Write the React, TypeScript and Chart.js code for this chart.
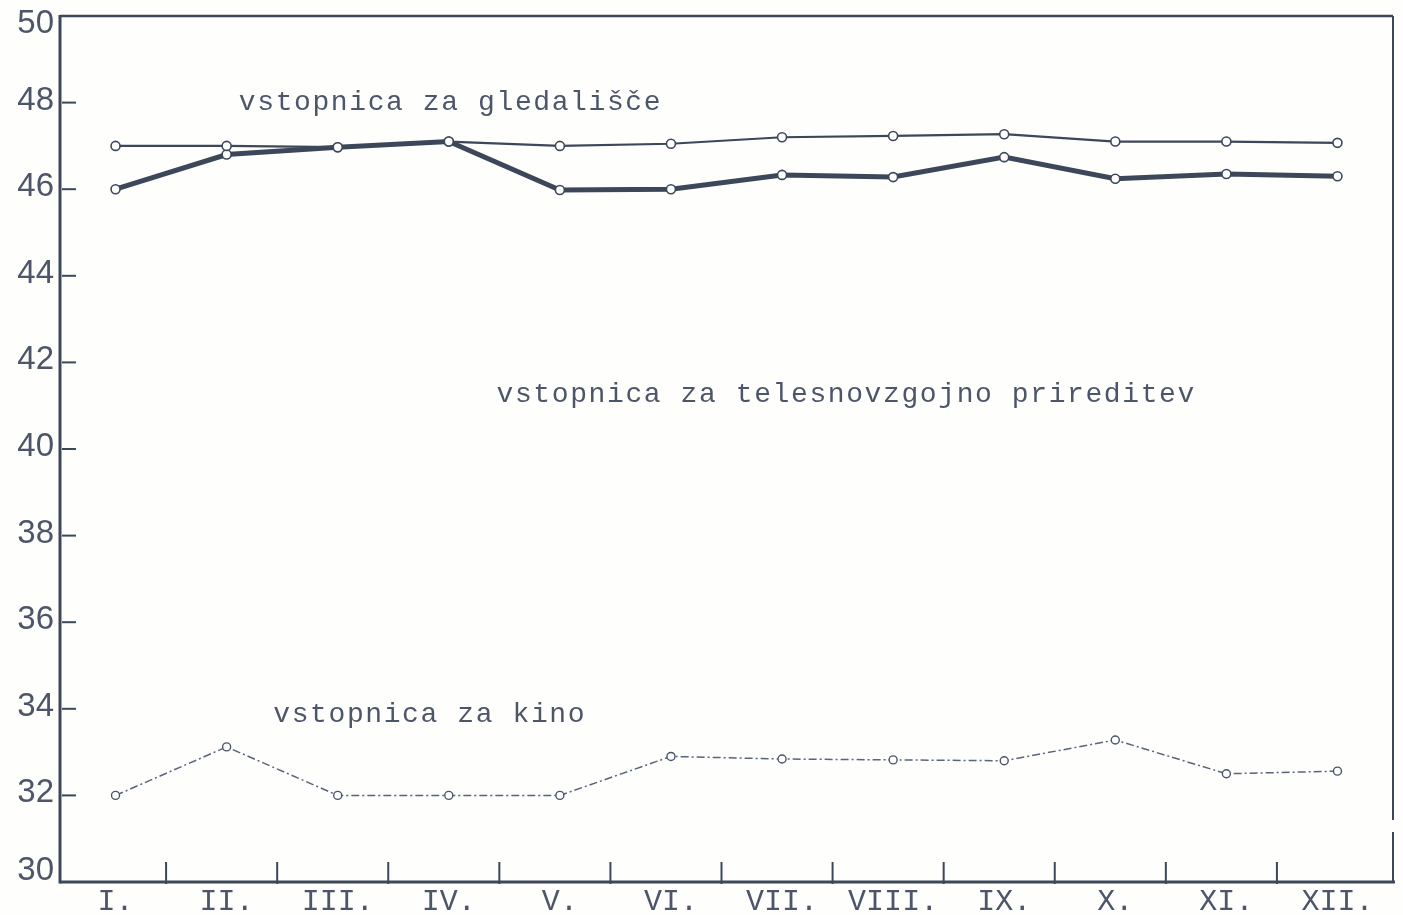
import React, { useEffect, useRef } from 'react';
import { Chart, registerables } from 'chart.js';

Chart.register(...registerables);

// ---- data ----
const months = ['I.', 'II.', 'III.', 'IV.', 'V.', 'VI.', 'VII.', 'VIII.', 'IX.', 'X.', 'XI.', 'XII.'];
const theatre = [47.0, 47.0, 46.97, 47.1, 47.0, 47.05, 47.2, 47.23, 47.27, 47.1, 47.1, 47.07];
const sports = [46.0, 46.8, 46.97, 47.1, 45.98, 46.0, 46.33, 46.28, 46.74, 46.24, 46.35, 46.3];
const cinema = [32.0, 33.12, 32.0, 32.0, 32.0, 32.9, 32.84, 32.82, 32.8, 33.28, 32.5, 32.56];
const yTicks = [30, 32, 34, 36, 38, 40, 42, 44, 46, 48, 50];

const labelTheatre = 'vstopnica za gledališče';
const labelSports = 'vstopnica za telesnovzgojno prireditev';
const labelCinema = 'vstopnica za kino';

// annotation anchors in data space: [category index (fractional), value]
const annTheatre = [1.11, 48.0];
const annSports = [3.43, 41.25];
const annCinema = [1.42, 33.86];

const INK = '#3c475a';
const TEXT = '#4d5669';
const MONO = '"Liberation Mono", "DejaVu Sans Mono", monospace';
const SANS = '"Liberation Sans", Arial, sans-serif';

const decor = {
  id: 'decor',
  beforeDraw(chart: any) {
    const { ctx, width, height } = chart;
    ctx.save();
    ctx.fillStyle = '#fefefd';
    ctx.fillRect(0, 0, width, height);
    ctx.restore();
  },
  afterDraw(chart: any) {
    const { ctx, chartArea: a, scales } = chart;
    const x = scales.x;
    const y = scales.y;
    const line = (x1: number, y1: number, x2: number, y2: number) => {
      ctx.beginPath();
      ctx.moveTo(x1, y1);
      ctx.lineTo(x2, y2);
      ctx.stroke();
    };
    ctx.save();
    ctx.strokeStyle = INK;
    ctx.lineCap = 'butt';
    // frame
    ctx.lineWidth = 3;
    line(a.left, a.top - 1, a.left, a.bottom + 1.5);
    line(a.left, a.bottom, a.right + 2, a.bottom);
    ctx.lineWidth = 2.5;
    line(a.left, a.top, a.right, a.top);
    ctx.lineWidth = 2;
    line(a.right, a.top, a.right, a.bottom - 62);
    line(a.right, a.bottom - 50, a.right, a.bottom);
    // y tick dashes
    ctx.lineWidth = 2;
    yTicks.forEach((v) => {
      if (v > 30 && v < 50) {
        const py = y.getPixelForValue(v);
        line(a.left + 2, py, a.left + 16, py);
      }
    });
    // y tick labels (placed via the y scale)
    ctx.fillStyle = TEXT;
    ctx.font = `33px ${SANS}`;
    ctx.textAlign = 'right';
    ctx.textBaseline = 'middle';
    yTicks.forEach((v) => {
      let dy = -2;
      if (v === y.max) dy = 8;
      if (v === y.min) dy = -11;
      ctx.fillText(String(v), a.left - 6, y.getPixelForValue(v) + dy);
    });
    // x separators
    ctx.lineWidth = 2;
    for (let i = 0; i < months.length - 1; i++) {
      const px = (x.getPixelForValue(i) + x.getPixelForValue(i + 1)) / 2 - 5;
      line(px, a.bottom - 20, px, a.bottom + 2);
    }
    // annotations
    ctx.fillStyle = TEXT;
    ctx.font = `28px ${MONO}`;
    (ctx as any).letterSpacing = '1.6px';
    ctx.textAlign = 'left';
    ctx.textBaseline = 'middle';
    const put = (txt: string, pos: number[]) => {
      ctx.fillText(txt, x.getPixelForValue(pos[0]), y.getPixelForValue(pos[1]));
    };
    put(labelTheatre, annTheatre);
    put(labelSports, annSports);
    put(labelCinema, annCinema);
    ctx.restore();
  },
};

export default function App() {
  const ref = useRef<HTMLCanvasElement | null>(null);

  useEffect(() => {
    if (!ref.current) return;
    const chart = new Chart(ref.current, {
      type: 'line',
      data: {
        labels: months,
        datasets: [
          {
            label: labelTheatre,
            data: theatre,
            borderColor: INK,
            borderWidth: 2.2,
            pointRadius: 4.5,
            pointBorderWidth: 1.6,
            pointBackgroundColor: '#ffffff',
            pointBorderColor: INK,
            tension: 0,
          },
          {
            label: labelSports,
            data: sports,
            borderColor: INK,
            borderWidth: 5,
            pointRadius: 4.5,
            pointBorderWidth: 1.6,
            pointBackgroundColor: '#ffffff',
            pointBorderColor: INK,
            tension: 0,
          },
          {
            label: labelCinema,
            data: cinema,
            borderColor: '#59637a',
            borderWidth: 1.5,
            borderDash: [8, 3, 2, 3],
            pointRadius: 4,
            pointBorderWidth: 1.4,
            pointBackgroundColor: '#ffffff',
            pointBorderColor: '#4a5468',
            tension: 0,
          },
        ],
      },
      options: {
        responsive: false,
        animation: false,
        layout: { padding: { top: 16, right: 10, left: 0, bottom: 0 } },
        plugins: {
          legend: { display: false },
          tooltip: { enabled: false },
        },
        scales: {
          x: {
            type: 'category',
            offset: true,
            grid: { display: false, drawTicks: false },
            border: { display: false },
            ticks: {
              color: TEXT,
              font: { family: MONO, size: 30 },
              padding: 2,
              maxRotation: 0,
              autoSkip: false,
            },
            afterFit: (s: any) => {
              s.height = 33;
            },
          },
          y: {
            min: 30,
            max: 50,
            grid: { display: false, drawTicks: false },
            border: { display: false },
            afterBuildTicks: (s: any) => {
              s.ticks = yTicks.map((v) => ({ value: v }));
            },
            ticks: { display: false },
            afterFit: (s: any) => {
              s.width = 60;
            },
          },
        },
      },
      plugins: [decor],
    });
    return () => chart.destroy();
  }, []);

  return (
    <div style={{ position: 'absolute', left: 0, top: 0, width: 1403, height: 915, background: '#fefefd' }}>
      <canvas ref={ref} width={1403} height={915} style={{ display: 'block' }} />
    </div>
  );
}
